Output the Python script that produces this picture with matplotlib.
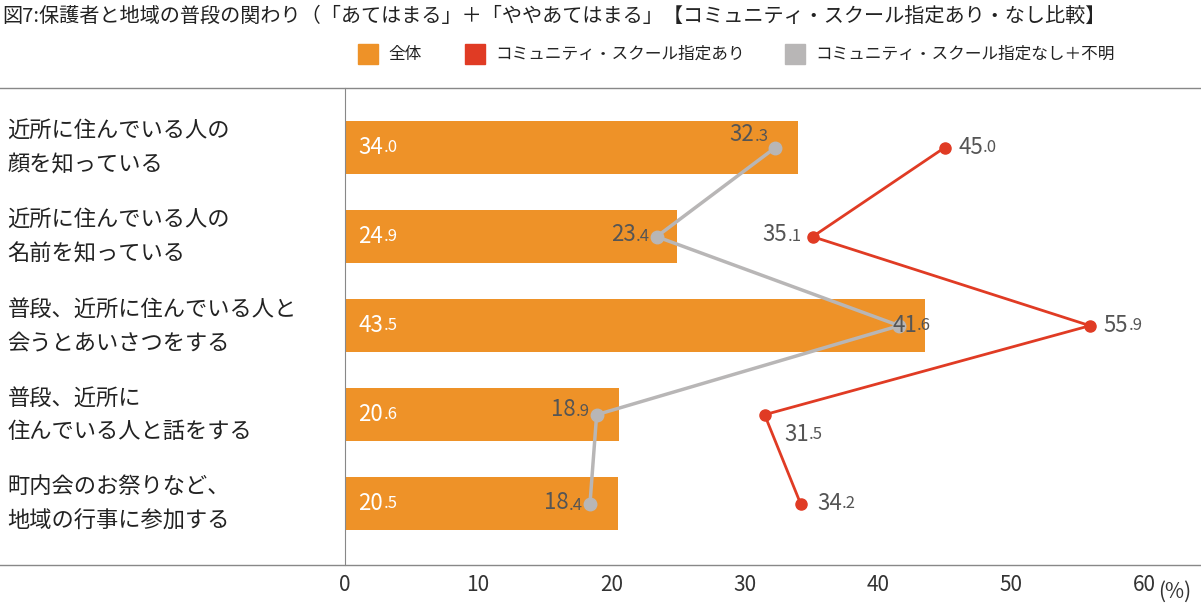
import matplotlib
matplotlib.use("Agg")
import matplotlib.pyplot as plt
from matplotlib.lines import Line2D
from matplotlib.patches import Rectangle

plt.rcParams['font.family'] = ['Noto Sans CJK JP', 'DejaVu Sans']

categories = ["近所に住んでいる人の\n顔を知っている", "近所に住んでいる人の\n名前を知っている",
              "普段、近所に住んでいる人と\n会うとあいさつをする", "普段、近所に\n住んでいる人と話をする",
              "町内会のお祭りなど、\n地域の行事に参加する"]
total = [34.0, 24.9, 43.5, 20.6, 20.5]
designated = [45.0, 35.1, 55.9, 31.5, 34.2]
not_designated = [32.3, 23.4, 41.6, 18.9, 18.4]
series_names = ["全体", "コミュニティ・スクール指定あり", "コミュニティ・スクール指定なし＋不明"]
title = "図7:保護者と地域の普段の関わり（「あてはまる」＋「ややあてはまる」【コミュニティ・スクール指定あり・なし比較】"

ORANGE, RED, GRAY, TXT = "#ee9228", "#e03b24", "#b8b6b6", "#555555"

fig = plt.figure(figsize=(12.01, 6.11), dpi=100)
ax = fig.add_axes([0.287, 0.075, 0.953 - 0.287, 0.856 - 0.075])
y = list(range(len(categories)))
ax.barh(y, total, height=0.6, color=ORANGE, zorder=1)
ax.plot(not_designated, y, color=GRAY, lw=2.5, marker='o', ms=9, zorder=3)
ax.plot(designated, y, color=RED, lw=2, marker='o', ms=8, zorder=2)
ax.set_xlim(0, 60)
ax.set_ylim(4.69, -0.67)
ax.set_yticks([])
ax.set_xticks(range(0, 61, 10))
ax.tick_params(axis='x', length=0, labelsize=15, labelcolor="#333333", pad=6)
for s in ['top', 'right', 'bottom']:
    ax.spines[s].set_visible(False)
ax.spines['left'].set_color("#888888")

def label(x, yy, v, color, dx, dy, ha='left'):
    s = f"{v:.1f}"
    a, b = s.split('.')
    if ha == 'left':
        t = ax.annotate(a, (x, yy), xytext=(dx, dy), textcoords='offset points',
                        fontsize=16, color=color, va='center', ha='left', zorder=5)
        ax.annotate("." + b, xy=(1, 0.12), xycoords=t, fontsize=12, color=color,
                    va='bottom', ha='left', zorder=5)
    else:
        t = ax.annotate("." + b, (x, yy), xytext=(dx, dy), textcoords='offset points',
                        fontsize=12, color=color, va='center', ha='right', zorder=5)
        ax.annotate(a, xy=(0, -0.05), xycoords=t, fontsize=16, color=color,
                    va='bottom', ha='right', zorder=5)

for i, v in enumerate(total):
    label(0, i, v, "white", 10, 0)
ndoff = [(-5, 8), (-5, 0), (-6, 0), (-5, 2), (-5, -1)]
for i, v in enumerate(not_designated):
    dx, dy = ndoff[i]
    if i == 2:
        label(v, i, v, TXT, -5, 0)
    else:
        label(v, i, v, TXT, dx, dy, ha='right')
doff = [(10, 0, 'left'), (-8, 0, 'right'), (10, 0, 'left'), (14, -14, 'left'), (12, 0, 'left')]
for i, v in enumerate(designated):
    dx, dy, h = doff[i]
    label(v, i, v, TXT, dx, dy, ha=h)

for i, c in enumerate(categories):
    ax.text(-25.3, i, c, fontsize=16, color="#222222", va='center', ha='left', linespacing=1.6)

fig.text(1158 / 1201, 1 - 592 / 611, "(%)", fontsize=15, color="#333333", ha='left', va='center')
fig.add_artist(Line2D([0, 1], [0.856, 0.856], color="#888888", lw=1))
fig.add_artist(Line2D([0, 1], [0.075, 0.075], color="#888888", lw=1))
fig.text(0.002, 1 - 16 / 611, title, fontsize=14.5, color="#222222", va='center', ha='left')

lx = [358, 465, 785]
for x0, col, name in zip(lx, [ORANGE, RED, GRAY], series_names):
    fig.add_artist(Rectangle((x0 / 1201, 1 - 64 / 611), 20 / 1201, 20 / 611, color=col))
    fig.text((x0 + 30) / 1201, 1 - 54 / 611, name, fontsize=12, color="#222222", va='center')

fig.savefig("out.png", dpi=100)
